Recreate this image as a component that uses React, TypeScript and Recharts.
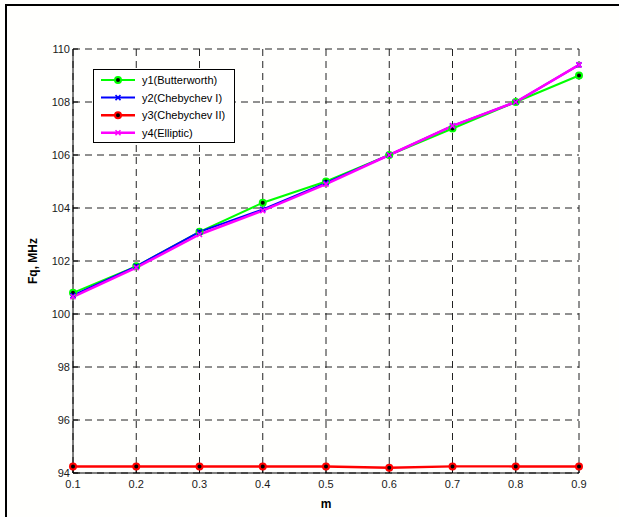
import { CartesianGrid, Label, Line, LineChart, XAxis, YAxis } from "recharts"

const M_VALUES = [0.1, 0.2, 0.3, 0.4, 0.5, 0.6, 0.7, 0.8, 0.9]
const Y_TICKS = [94, 96, 98, 100, 102, 104, 106, 108, 110]

const BUTTERWORTH = [100.8, 101.8, 103.1, 104.2, 105.0, 106.0, 107.0, 108.0, 109.0]
const CHEBYCHEV_1 = [100.7, 101.8, 103.1, 103.95, 104.95, 106.0, 107.1, 108.0, 109.4]
const CHEBYCHEV_2 = [94.25, 94.25, 94.25, 94.25, 94.25, 94.2, 94.25, 94.25, 94.25]
const ELLIPTIC = [100.65, 101.75, 103.0, 103.9, 104.9, 106.0, 107.1, 108.0, 109.4]

const SERIES = [
  { key: "y1", name: "y1(Butterworth)", color: "#00FF00", width: 2, marker: "circle" },
  { key: "y2", name: "y2(Chebychev I)", color: "#0000FF", width: 2, marker: "x" },
  { key: "y3", name: "y3(Chebychev II)", color: "#FF0000", width: 2.5, marker: "circle" },
  { key: "y4", name: "y4(Elliptic)", color: "#FF00FF", width: 2.5, marker: "x" },
]

const chartData = M_VALUES.map((m, i) => ({
  m,
  y1: BUTTERWORTH[i],
  y2: CHEBYCHEV_1[i],
  y3: CHEBYCHEV_2[i],
  y4: ELLIPTIC[i],
}))

const FONT = "'Liberation Sans', Arial, sans-serif"
const TICK_STYLE = { fontSize: 11, fill: "#1a1a1a", fontFamily: FONT }

function Marker({ cx, cy, color, type }: { cx: number; cy: number; color: string; type: string }) {
  if (type === "circle") {
    return <circle cx={cx} cy={cy} r={3} fill="#000" stroke={color} strokeWidth={2} />
  }
  const s = 2.5
  return (
    <g stroke={color} strokeWidth={1.6}>
      <line x1={cx - s} y1={cy - s} x2={cx + s} y2={cy + s} />
      <line x1={cx - s} y1={cy + s} x2={cx + s} y2={cy - s} />
    </g>
  )
}

function makeDot(color: string, type: string) {
  return (props: any) => {
    const { cx, cy, index } = props
    if (cx == null || cy == null) return <g key={`e-${index}`} />
    return (
      <g key={`d-${index}`}>
        <Marker cx={cx} cy={cy} color={color} type={type} />
      </g>
    )
  }
}

function LegendBox() {
  return (
    <svg
      width={142}
      height={74}
      style={{ position: "absolute", left: 93, top: 69, background: "#fff" }}
    >
      <rect x={0.5} y={0.5} width={141} height={73} fill="#fff" stroke="#000" strokeWidth={1} />
      {SERIES.map((s, i) => {
        const y = 11 + i * 17.6
        return (
          <g key={s.key}>
            <line x1={8} y1={y} x2={42} y2={y} stroke={s.color} strokeWidth={s.width} />
            <Marker cx={25} cy={y} color={s.color} type={s.marker} />
            <text x={49} y={y + 4} fontSize={11} fontFamily={FONT} fill="#000">
              {s.name}
            </text>
          </g>
        )
      })}
    </svg>
  )
}

export default function App() {
  return (
    <div style={{ position: "absolute", left: 0, top: 0, width: 619, height: 517, background: "#fffffd" }}>
      <div style={{ position: "absolute", left: 5, top: 4, width: 614, height: 513, borderLeft: "2px solid #000", borderTop: "2px solid #000" }} />
      <div style={{ position: "absolute", left: 0, top: 0 }}>
        <LineChart width={619} height={517} data={chartData} margin={{ top: 49, right: 40, bottom: 0, left: 0 }}>
          <CartesianGrid stroke="#222" strokeDasharray="7 5" strokeWidth={1} />
          <XAxis
            dataKey="m"
            type="number"
            domain={[0.1, 0.9]}
            ticks={M_VALUES}
            interval={0}
            tickFormatter={(v) => Number(v).toFixed(1)}
            tick={TICK_STYLE}
            tickSize={-5}
            tickMargin={12}
            tickLine={{ stroke: "#000" }}
            axisLine={{ stroke: "#000" }}
            height={44}
          >
            <Label value="m" position="insideBottom" offset={9} style={{ fontSize: 12, fontWeight: "bold", fontFamily: FONT, fill: "#000" }} />
          </XAxis>
          <XAxis
            xAxisId="top"
            dataKey="m"
            type="number"
            orientation="top"
            domain={[0.1, 0.9]}
            ticks={M_VALUES}
            interval={0}
            tickFormatter={() => ""}
            tickSize={-5}
            tickLine={{ stroke: "#000" }}
            axisLine={{ stroke: "#000" }}
            height={0}
          >
            <Label value="Frequensy Synthesis" position="top" offset={5} style={{ fontSize: 12, fontWeight: "bold", fontFamily: FONT, fill: "#000" }} />
          </XAxis>
          <YAxis
            type="number"
            domain={[94, 110]}
            ticks={Y_TICKS}
            interval={0}
            tick={TICK_STYLE}
            tickSize={-5}
            tickMargin={8}
            tickLine={{ stroke: "#000" }}
            axisLine={{ stroke: "#000" }}
            width={73}
          >
            <Label
              value="Fq, MHz"
              angle={-90}
              position="insideLeft"
              offset={33}
              style={{ textAnchor: "middle", fontSize: 12, fontWeight: "bold", fontFamily: FONT, fill: "#000" }}
            />
          </YAxis>
          <YAxis
            yAxisId="right"
            type="number"
            orientation="right"
            domain={[94, 110]}
            ticks={Y_TICKS}
            interval={0}
            tickFormatter={() => ""}
            tickSize={-5}
            tickLine={{ stroke: "#000" }}
            axisLine={{ stroke: "#000" }}
            width={0}
          />
          {SERIES.map((s) => (
            <Line
              key={s.key}
              type="linear"
              dataKey={s.key}
              stroke={s.color}
              strokeWidth={s.width}
              dot={makeDot(s.color, s.marker)}
              activeDot={false}
              isAnimationActive={false}
            />
          ))}
        </LineChart>
      </div>
      <LegendBox />
    </div>
  )
}
